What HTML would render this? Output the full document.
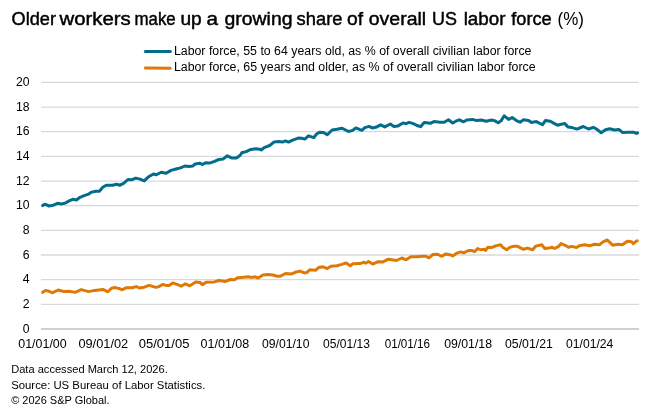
<!DOCTYPE html>
<html><head><meta charset="utf-8"><style>
html,body{margin:0;padding:0;background:#fff;}
svg{display:block;will-change:transform;}
text{font-family:"Liberation Sans",sans-serif;fill:#000;}
.ax{font-size:12.2px;}
.lg{font-size:12px;}
.ft{font-size:10px;}
</style></head><body>
<svg width="660" height="416" viewBox="0 0 660 416">
<text x="11.64" y="24.6" font-size="18" stroke="#000" stroke-width="0.45" textLength="44.36" lengthAdjust="spacingAndGlyphs">Older</text>
<text x="59.50" y="24.6" font-size="18" stroke="#000" stroke-width="0.45" textLength="71.22" lengthAdjust="spacingAndGlyphs">workers</text>
<text x="134.50" y="24.6" font-size="18" stroke="#000" stroke-width="0.45" textLength="41.22" lengthAdjust="spacingAndGlyphs">make</text>
<text x="180.42" y="24.6" font-size="18" stroke="#000" stroke-width="0.45" textLength="21.30" lengthAdjust="spacingAndGlyphs">up</text>
<text x="206.64" y="24.6" font-size="18" stroke="#000" stroke-width="0.45" textLength="11.50" lengthAdjust="spacingAndGlyphs">a</text>
<text x="224.50" y="24.6" font-size="18" stroke="#000" stroke-width="0.45" textLength="68.02" lengthAdjust="spacingAndGlyphs">growing</text>
<text x="296.64" y="24.6" font-size="18" stroke="#000" stroke-width="0.45" textLength="45.80" lengthAdjust="spacingAndGlyphs">share</text>
<text x="347.14" y="24.6" font-size="18" stroke="#000" stroke-width="0.45" textLength="16.06" lengthAdjust="spacingAndGlyphs">of</text>
<text x="368.78" y="24.6" font-size="18" stroke="#000" stroke-width="0.45" textLength="57.38" lengthAdjust="spacingAndGlyphs">overall</text>
<text x="432.06" y="24.6" font-size="18" stroke="#000" stroke-width="0.45" textLength="24.94" lengthAdjust="spacingAndGlyphs">US</text>
<text x="463.70" y="24.6" font-size="18" stroke="#000" stroke-width="0.45" textLength="41.80" lengthAdjust="spacingAndGlyphs">labor</text>
<text x="511.22" y="24.6" font-size="18" stroke="#000" stroke-width="0.45" textLength="40.42" lengthAdjust="spacingAndGlyphs">force</text>

<text x="557.6" y="24.5" font-size="18" textLength="26.4" lengthAdjust="spacingAndGlyphs">(%)</text>
<line x1="145.4" y1="51.4" x2="170.3" y2="51.4" stroke="#026c8a" stroke-width="3" stroke-linecap="round"/>
<line x1="145.4" y1="68.0" x2="170.3" y2="68.2" stroke="#df7905" stroke-width="3" stroke-linecap="round"/>
<text x="173.9" y="54.5" class="lg" textLength="357.6" lengthAdjust="spacingAndGlyphs">Labor force, 55 to 64 years old, as % of overall civilian labor force</text>
<text x="173.9" y="71.4" class="lg" textLength="361.8" lengthAdjust="spacingAndGlyphs">Labor force, 65 years and older, as % of overall civilian labor force</text>
<line x1="41" y1="304.34" x2="639" y2="304.34" stroke="#d8d9dd" stroke-width="1.3"/>
<line x1="41" y1="279.68" x2="639" y2="279.68" stroke="#d8d9dd" stroke-width="1.3"/>
<line x1="41" y1="255.02" x2="639" y2="255.02" stroke="#d8d9dd" stroke-width="1.3"/>
<line x1="41" y1="230.36" x2="639" y2="230.36" stroke="#d8d9dd" stroke-width="1.3"/>
<line x1="41" y1="205.70" x2="639" y2="205.70" stroke="#d8d9dd" stroke-width="1.3"/>
<line x1="41" y1="181.04" x2="639" y2="181.04" stroke="#d8d9dd" stroke-width="1.3"/>
<line x1="41" y1="156.38" x2="639" y2="156.38" stroke="#d8d9dd" stroke-width="1.3"/>
<line x1="41" y1="131.72" x2="639" y2="131.72" stroke="#d8d9dd" stroke-width="1.3"/>
<line x1="41" y1="107.06" x2="639" y2="107.06" stroke="#d8d9dd" stroke-width="1.3"/>
<line x1="41" y1="82.40" x2="639" y2="82.40" stroke="#d8d9dd" stroke-width="1.3"/>

<line x1="41" y1="329.0" x2="639" y2="329.0" stroke="#d0d0d0" stroke-width="2"/>
<text x="29.5" y="332.80" text-anchor="end" class="ax">0</text>
<text x="29.5" y="308.14" text-anchor="end" class="ax">2</text>
<text x="29.5" y="283.48" text-anchor="end" class="ax">4</text>
<text x="29.5" y="258.82" text-anchor="end" class="ax">6</text>
<text x="29.5" y="234.16" text-anchor="end" class="ax">8</text>
<text x="29.5" y="208.50" text-anchor="end" class="ax">10</text>
<text x="29.5" y="184.84" text-anchor="end" class="ax">12</text>
<text x="29.5" y="160.18" text-anchor="end" class="ax">14</text>
<text x="29.5" y="134.52" text-anchor="end" class="ax">16</text>
<text x="29.5" y="110.86" text-anchor="end" class="ax">18</text>
<text x="29.5" y="86.20" text-anchor="end" class="ax">20</text>

<text x="42.50" y="347.7" text-anchor="middle" class="ax" textLength="48.4" lengthAdjust="spacingAndGlyphs">01/01/00</text>
<text x="103.30" y="347.7" text-anchor="middle" class="ax" textLength="49.8" lengthAdjust="spacingAndGlyphs">09/01/02</text>
<text x="164.10" y="347.7" text-anchor="middle" class="ax" textLength="50.6" lengthAdjust="spacingAndGlyphs">05/01/05</text>
<text x="224.90" y="347.7" text-anchor="middle" class="ax" textLength="48.7" lengthAdjust="spacingAndGlyphs">01/01/08</text>
<text x="285.70" y="347.7" text-anchor="middle" class="ax" textLength="47.5" lengthAdjust="spacingAndGlyphs">09/01/10</text>
<text x="346.50" y="347.7" text-anchor="middle" class="ax" textLength="46.9" lengthAdjust="spacingAndGlyphs">05/01/13</text>
<text x="407.30" y="347.7" text-anchor="middle" class="ax" textLength="45.1" lengthAdjust="spacingAndGlyphs">01/01/16</text>
<text x="468.10" y="347.7" text-anchor="middle" class="ax" textLength="47.9" lengthAdjust="spacingAndGlyphs">09/01/18</text>
<text x="528.90" y="347.7" text-anchor="middle" class="ax" textLength="47.8" lengthAdjust="spacingAndGlyphs">05/01/21</text>
<text x="589.70" y="347.7" text-anchor="middle" class="ax" textLength="47.3" lengthAdjust="spacingAndGlyphs">01/01/24</text>

<path d="M42.7,205.6 L44.8,204.2 L49.1,206.0 L53.3,205.2 L57.6,203.3 L61.8,203.9 L65.5,203.0 L69.1,200.9 L72.7,199.3 L76.4,200.0 L80.0,197.3 L84.2,195.7 L88.5,194.2 L90.9,192.4 L95.8,191.2 L99.4,191.2 L103.0,187.0 L106.7,185.2 L112.7,185.2 L116.4,184.2 L120.0,185.2 L123.6,183.3 L127.9,179.5 L132.1,179.7 L135.8,178.1 L140.0,179.1 L144.2,180.9 L147.9,177.3 L153.3,174.0 L156.4,174.8 L161.2,172.2 L166.1,173.3 L170.9,170.4 L177.0,168.8 L180.6,167.9 L184.8,166.0 L189.1,166.4 L192.7,166.1 L195.2,163.9 L200.0,163.3 L202.4,164.5 L205.5,162.7 L208.5,163.0 L210.9,162.7 L214.5,161.3 L218.8,159.5 L223.0,159.1 L227.3,155.8 L232.1,158.1 L236.4,157.9 L240.0,155.5 L241.8,152.8 L246.1,151.6 L250.9,149.4 L255.8,148.8 L259.4,149.2 L261.2,150.0 L264.2,147.6 L269.7,145.5 L273.9,142.1 L278.8,141.5 L282.4,142.1 L285.5,140.9 L288.5,142.1 L292.1,140.3 L298.2,138.1 L301.8,138.2 L304.8,139.1 L308.5,135.8 L313.9,137.6 L316.4,134.2 L319.4,132.2 L323.6,132.4 L327.3,134.8 L332.1,130.0 L337.0,129.2 L341.8,128.2 L348.5,131.5 L352.7,130.4 L355.8,127.9 L359.4,129.4 L361.8,130.3 L364.8,127.6 L369.1,126.4 L372.1,127.9 L375.8,127.3 L380.6,124.8 L384.8,126.9 L390.3,124.0 L393.9,126.4 L397.6,126.1 L403.0,123.0 L406.1,123.6 L409.1,122.4 L413.3,123.6 L417.0,125.5 L420.6,126.7 L424.2,122.4 L430.3,123.3 L433.9,121.6 L440.0,122.2 L444.2,122.2 L448.5,119.8 L452.7,123.0 L455.8,121.2 L459.4,119.8 L463.6,121.8 L466.7,120.0 L472.7,119.4 L476.4,120.6 L481.2,120.0 L486.1,121.2 L491.5,120.0 L494.5,120.6 L498.2,122.8 L501.2,120.6 L504.2,115.8 L508.5,119.4 L512.1,117.6 L516.4,120.6 L520.0,122.2 L523.6,119.8 L528.5,120.4 L531.5,122.4 L536.4,121.6 L542.4,124.8 L545.5,120.4 L550.3,121.2 L554.5,123.6 L557.6,125.2 L561.2,124.2 L564.8,123.6 L567.9,126.9 L572.1,127.6 L577.0,129.1 L583.3,126.5 L588.5,129.0 L593.3,127.3 L597.0,129.4 L601.2,132.7 L605.5,129.8 L609.7,128.8 L614.5,130.0 L618.8,129.4 L622.4,132.4 L628.5,132.2 L633.3,132.2 L636.4,133.4 L637.6,132.8" fill="none" stroke="#026c8a" stroke-width="3" stroke-linejoin="round" stroke-linecap="round"/>
<path d="M42.7,292.3 L45.5,290.4 L49.1,291.2 L52.1,292.8 L58.2,290.0 L64.2,291.6 L69.1,291.2 L75.2,292.4 L81.2,289.6 L88.5,291.6 L94.5,290.4 L103.0,289.4 L107.9,291.8 L111.5,288.2 L115.2,287.6 L120.0,288.8 L121.8,289.8 L126.1,287.8 L132.1,287.8 L136.4,286.6 L139.4,288.0 L144.2,287.2 L149.1,285.4 L155.8,287.4 L158.8,286.6 L163.0,284.4 L166.7,285.6 L169.1,285.4 L172.7,282.9 L177.0,284.4 L181.2,286.2 L185.5,283.8 L189.7,285.8 L195.8,282.0 L200.0,282.4 L202.4,284.7 L206.1,282.3 L214.5,281.9 L218.8,280.5 L225.5,281.4 L230.3,279.5 L234.5,279.8 L237.6,277.8 L243.6,277.2 L247.9,276.8 L252.1,277.4 L255.2,276.8 L258.2,278.0 L263.0,275.0 L267.9,274.4 L272.7,275.0 L277.6,276.2 L280.0,276.3 L285.5,273.5 L290.9,274.1 L295.2,272.3 L300.0,271.1 L304.2,272.9 L306.7,272.6 L309.7,269.8 L315.8,270.2 L318.8,267.4 L323.0,266.8 L327.3,268.6 L330.9,266.2 L337.0,265.8 L341.8,264.4 L346.1,262.9 L350.3,265.8 L352.7,263.8 L360.0,263.6 L363.6,262.3 L366.1,263.1 L368.5,261.4 L372.7,264.1 L378.2,261.7 L383.0,261.9 L388.5,259.2 L396.4,260.5 L401.8,258.0 L406.1,259.8 L410.9,256.8 L417.0,256.8 L421.8,256.2 L425.5,256.2 L429.1,257.8 L432.7,254.6 L437.6,254.2 L440.0,255.5 L441.8,256.3 L445.5,254.1 L449.7,254.7 L452.7,255.9 L457.0,253.1 L460.6,251.9 L463.6,252.9 L468.5,250.5 L472.1,250.5 L474.5,251.7 L477.6,248.6 L481.2,249.8 L484.2,249.2 L485.5,250.5 L487.9,247.2 L492.1,247.4 L496.4,245.6 L500.6,244.8 L503.0,247.4 L506.7,249.8 L509.7,247.4 L513.9,246.2 L517.6,246.2 L520.0,247.6 L523.6,249.3 L527.3,248.1 L532.7,249.7 L535.8,246.1 L541.8,244.8 L544.8,248.5 L549.1,248.1 L552.1,247.3 L554.5,248.5 L558.2,246.7 L561.2,243.6 L565.5,245.5 L568.5,247.3 L572.1,246.4 L576.4,247.6 L579.4,245.7 L584.8,244.8 L589.7,245.7 L594.5,244.2 L599.4,244.8 L603.0,241.8 L607.3,240.0 L612.7,245.2 L617.6,244.2 L622.4,244.8 L627.3,241.2 L631.5,241.8 L633.3,243.6 L635.8,241.6 L637.2,240.8" fill="none" stroke="#df7905" stroke-width="3" stroke-linejoin="round" stroke-linecap="round"/>
<text x="11.2" y="372.7" class="ft" textLength="156.6" lengthAdjust="spacingAndGlyphs">Data accessed March 12, 2026.</text>
<text x="11.2" y="388.6" class="ft" textLength="194.2" lengthAdjust="spacingAndGlyphs">Source: US Bureau of Labor Statistics.</text>
<text x="11.2" y="403.5" class="ft" textLength="98.4" lengthAdjust="spacingAndGlyphs">© 2026 S&amp;P Global.</text>
</svg>
</body></html>
